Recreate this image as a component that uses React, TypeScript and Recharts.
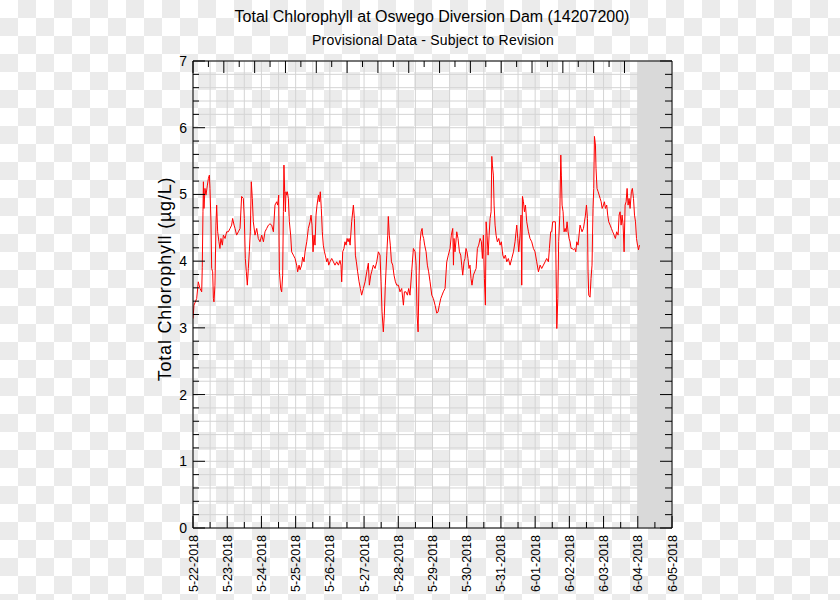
import React from 'react';
import { LineChart, Line, XAxis, YAxis, CartesianGrid, ReferenceArea } from 'recharts';

// hours since 5-22-2018 00:00
const hours = [
  0.0, 0.7, 2.6, 3.7, 4.9, 6.1, 6.5, 7.0, 7.3, 7.7,
  8.4, 9.1, 10.1, 10.8, 11.5, 11.9, 12.6, 13.1, 13.8, 14.3,
  14.7, 15.4, 16.1, 16.6, 17.3, 18.2, 18.9, 19.6, 20.6, 21.3,
  22.5, 23.6, 24.8, 26.0, 27.1, 27.8, 28.8, 29.5, 30.6, 31.8,
  33.0, 34.1, 35.3, 36.0, 36.7, 37.4, 38.1, 38.8, 39.5, 40.2,
  40.9, 41.6, 42.3, 43.5, 44.7, 45.8, 47.0, 48.2, 49.4, 50.5,
  51.7, 52.9, 54.0, 55.2, 56.4, 57.5, 58.7, 59.4, 60.1, 60.6,
  61.5,
  62.2, 62.9, 63.4, 63.8, 64.3, 64.8, 65.2, 65.7, 66.2, 66.9,
  67.6, 68.5, 69.2, 70.4, 71.6, 72.7, 73.4, 74.4, 75.1, 76.2,
  76.9, 77.9, 78.6, 79.8, 80.9, 82.1, 82.8, 83.5, 84.2, 84.9,
  85.6, 86.3, 87.0, 88.0, 88.6, 89.3, 90.0, 90.7, 91.4, 92.2,
  92.8, 93.8, 94.5, 95.2, 96.1, 97.3, 98.5, 99.6, 100.8, 102.0,
  103.1, 103.8, 104.3, 105.0, 105.9, 106.6, 107.4, 108.1, 108.8, 109.5,
  110.2, 111.3, 112.5, 113.2, 113.9, 114.6, 115.5, 116.5, 117.4, 118.3,
  119.5, 120.7, 121.9, 123.0, 123.7, 124.7,
  125.3, 126.5, 127.7, 128.9, 130.0, 131.2, 131.9, 132.6, 133.5, 134.2,
  134.9, 135.9, 136.6, 137.0, 137.7, 138.4, 139.2, 140.1, 141.0, 142.0,
  142.9, 144.1, 145.2, 146.4, 147.6, 148.3, 149.4, 150.4, 151.3, 152.2,
  153.4, 154.6, 155.8, 156.5, 157.2, 157.9, 158.6, 159.3, 160.0, 160.7,
  161.1, 161.8, 162.5, 163.5, 164.4, 165.3, 166.3, 167.5, 168.6, 169.8,
  171.0, 171.9, 172.8, 173.8, 174.7, 175.6, 176.8, 178.0, 179.1, 180.3,
  181.2, 182.2, 182.7, 183.1, 183.8, 185.0, 185.9, 186.9, 187.8,
  188.5, 189.2, 190.1, 190.8, 191.5, 192.2, 192.9, 193.6, 194.3, 195.0,
  195.7, 196.7, 197.6, 198.6, 199.5, 200.4, 201.4, 202.3, 203.0, 203.7,
  204.4, 205.1, 205.6, 206.3, 207.0, 207.7, 208.4, 209.1, 209.6, 210.0,
  210.7, 211.2, 211.9, 212.6, 213.5, 214.5, 215.4, 216.3, 217.3, 218.2,
  219.1, 220.1, 221.2, 222.4, 223.6, 224.8, 225.9, 227.1, 227.8, 228.5,
  229.4, 230.1, 230.6, 231.1, 231.8, 232.5, 233.2, 234.1, 235.3, 236.4,
  237.6, 238.8, 239.9, 241.1, 242.3, 243.5, 244.6, 245.8, 247.0, 248.1,
  249.3, 250.0, 250.9,
  251.6, 252.3, 254.2, 254.7, 255.2, 255.9, 256.5, 257.3, 258.0, 258.4,
  258.9, 259.6, 260.3, 261.0, 261.7, 262.4, 263.1, 263.8, 264.5, 265.2,
  265.9, 266.9, 267.8, 268.5, 269.2, 270.1, 270.8, 271.5, 272.2, 272.9,
  273.9, 274.6, 275.3, 276.0, 276.7, 277.1, 277.6, 278.5, 279.2, 279.9,
  280.6, 281.1, 281.6, 282.3, 282.7, 283.4, 284.2, 284.9, 285.6, 286.3,
  287.0, 287.9, 288.6, 289.3, 290.2, 290.9, 291.6, 292.6, 293.5, 294.4,
  295.4, 296.3, 297.2, 298.2, 298.9, 299.6, 300.3, 301.0, 301.7, 302.4,
  303.1, 303.8, 304.5, 305.2, 305.9, 306.6, 307.5, 308.2, 309.0, 309.7,
  310.4, 311.1, 311.8, 312.5, 313.2,
];

// total chlorophyll, ug/L
const chlorophyll = [
  3.14, 3.34, 3.44, 3.69, 3.59, 3.54, 3.90, 4.74, 5.19, 4.79,
  5.09, 4.99, 5.14, 5.24, 5.29, 5.09, 4.60, 3.89, 3.84, 3.44,
  3.39, 3.64, 4.54, 4.84, 4.44, 4.29, 4.19, 4.34, 4.24, 4.39,
  4.34, 4.44, 4.44, 4.49, 4.54, 4.64, 4.54, 4.49, 4.39, 4.44,
  4.49, 4.97, 4.94, 4.64, 4.04, 3.84, 3.64, 3.89, 4.14, 4.44,
  5.19, 4.94, 4.59, 4.39, 4.49, 4.34, 4.29, 4.39, 4.29, 4.44,
  4.49, 4.54, 4.56, 4.54, 4.44, 4.84, 4.89, 4.84, 4.99, 3.84,
  3.59,
  3.54, 3.79, 4.74, 5.44, 5.04, 4.74, 5.04, 4.99, 5.04, 4.94,
  4.59, 4.39, 4.14, 4.09, 4.04, 3.94, 3.84, 3.94, 3.87, 3.94,
  4.06, 3.99, 4.14, 4.29, 4.49, 4.59, 4.69, 4.54, 4.14, 4.39,
  4.24, 4.69, 4.84, 4.99, 4.89, 5.04, 4.79, 4.44, 4.24, 4.14,
  4.09, 3.99, 4.04, 3.94, 3.99, 4.04, 3.99, 3.94, 3.99, 3.94,
  4.01, 3.94, 3.69, 4.14, 4.19, 4.29, 4.24, 4.34, 4.29, 4.34,
  4.24, 4.59, 4.84, 4.64, 4.09, 3.99, 3.84, 3.69, 3.59, 3.49,
  3.59, 3.69, 3.84, 3.97, 3.64, 3.79,
  3.84, 3.94, 3.89, 3.99, 4.14, 4.09, 3.69, 3.24, 2.94, 3.19,
  3.64, 4.09, 4.39, 4.67, 4.39, 4.24, 3.99, 3.94, 3.79, 3.69,
  3.64, 3.64, 3.54, 3.59, 3.34, 3.54, 3.54, 3.49, 3.59, 3.49,
  3.84, 4.19, 4.14, 3.94, 3.19, 2.94, 3.79, 4.29, 4.44, 4.49,
  4.39, 4.34, 4.24, 4.14, 3.94, 3.84, 3.69, 3.49, 3.44, 3.34,
  3.22, 3.24, 3.34, 3.44, 3.49, 3.54, 3.59, 3.99, 4.09, 4.19,
  4.39, 4.49, 3.94, 4.34, 4.14, 4.44, 4.34, 4.14, 4.09,
  3.94, 3.79, 3.99, 4.04, 4.19, 4.14, 4.04, 3.89, 3.94, 3.74,
  3.64, 3.79, 3.84, 3.89, 4.19, 4.24, 4.34, 4.29, 4.04, 4.39,
  3.74, 3.34, 4.59, 4.39, 4.09, 4.39, 4.64, 4.74, 5.57, 5.44,
  5.29, 4.84, 4.54, 4.39, 4.29, 4.34, 4.24, 4.29, 4.09, 4.04,
  4.09, 3.99, 4.04, 3.94, 4.04, 4.14, 4.29, 4.54, 4.34, 4.14,
  4.39, 4.69, 3.64, 4.97, 4.89, 4.74, 4.84, 4.59, 4.44, 4.34,
  4.29, 4.19, 4.14, 3.99, 3.84, 3.94, 3.89, 3.94, 3.99, 4.04,
  3.99, 4.19, 4.44,
  4.44, 4.59, 4.59, 3.84, 2.99, 3.44, 4.29, 4.69, 5.59, 5.29,
  4.84, 4.74, 4.44, 4.49, 4.44, 4.59, 4.44, 4.34, 4.29, 4.19,
  4.19, 4.17, 4.19, 4.14, 4.29, 4.24, 4.39, 4.54, 4.49, 4.44,
  4.49, 4.59, 4.69, 4.84, 4.64, 3.84, 3.49, 3.46, 3.74, 3.94,
  4.79, 5.09, 5.87, 5.74, 5.39, 5.09, 5.04, 4.99, 4.94, 4.89,
  4.79, 4.84, 4.89, 4.79, 4.84, 4.69, 4.59, 4.54, 4.49, 4.44,
  4.39, 4.34, 4.44, 4.39, 4.69, 4.74, 4.54, 4.69, 4.54, 4.14,
  4.84, 4.89, 5.09, 4.84, 4.94, 4.79, 5.04, 5.09, 4.94, 4.69,
  4.59, 4.34, 4.24, 4.17, 4.24,
];

const dateLabels = [
  '5-22-2018', '5-23-2018', '5-24-2018', '5-25-2018', '5-26-2018',
  '5-27-2018', '5-28-2018', '5-29-2018', '5-30-2018', '5-31-2018',
  '6-01-2018', '6-02-2018', '6-03-2018', '6-04-2018', '6-05-2018',
];

const endHour = 336;
const shadeStart = 312; // 6-04 00:00, no data yet
const xTicks = Array.from({ length: 29 }, (_, i) => i * 12);
const yTicks = Array.from({ length: 36 }, (_, i) => i / 5);

const data = hours.map((h, i) => ({ h, v: chlorophyll[i] }));

const font = '"Liberation Sans", Arial, Helvetica, sans-serif';
const isWhole = (v: number) => Math.abs(v - Math.round(v)) < 1e-6;

const BottomTick = ({ x, y, payload }: any) => {
  const major = payload.value % 24 === 0;
  const ty = y + 7;
  return (
    <g>
      <line x1={x} y1={y} x2={x} y2={y - (major ? 12 : 6)} stroke="#000" />
      {major && (
        <text
          x={x}
          y={ty}
          transform={`rotate(-90 ${x} ${ty})`}
          textAnchor="end"
          dy="0.36em"
          fontSize={12.5}
          fontFamily={font}
          fill="#000"
        >
          {dateLabels[payload.value / 24]}
        </text>
      )}
    </g>
  );
};

const TopTick = ({ x, y, payload }: any) => {
  const major = payload.value % 24 === 0;
  return <line x1={x} y1={y} x2={x} y2={y + (major ? 12 : 6)} stroke="#000" />;
};

const LeftTick = ({ x, y, payload }: any) => {
  const major = isWhole(payload.value);
  return (
    <g>
      <line x1={x} y1={y} x2={x + (major ? 12 : 6)} y2={y} stroke="#000" />
      {major && (
        <text x={x - 6} y={y} dy="0.36em" textAnchor="end" fontSize={14} fontFamily={font} fill="#000">
          {Math.round(payload.value)}
        </text>
      )}
    </g>
  );
};

const RightTick = ({ x, y, payload }: any) => {
  const major = isWhole(payload.value);
  return <line x1={x} y1={y} x2={x - (major ? 12 : 7)} y2={y} stroke="#000" />;
};

export default function App() {
  return (
    <div
      style={{
        position: 'absolute',
        left: 0,
        top: 0,
        width: 840,
        height: 600,
        fontFamily: font,
        backgroundColor: '#fff',
        backgroundImage: 'conic-gradient(#ebebeb 25%, #fff 0 50%, #ebebeb 0 75%, #fff 0)',
        backgroundSize: '36px 36px',
      }}
    >
      <div style={{ position: 'absolute', left: 432, top: 8, transform: 'translateX(-50%)', fontSize: 16, lineHeight: '18px', whiteSpace: 'nowrap' }}>
        Total Chlorophyll at Oswego Diversion Dam (14207200)
      </div>
      <div style={{ position: 'absolute', left: 433, top: 32, transform: 'translateX(-50%)', fontSize: 14, lineHeight: '17px', whiteSpace: 'nowrap', letterSpacing: '0.2px' }}>
        Provisional Data - Subject to Revision
      </div>
      <div
        style={{
          position: 'absolute',
          left: 165,
          top: 279,
          transform: 'translate(-50%, -50%) rotate(-90deg)',
          fontSize: 18,
          lineHeight: '20px',
          letterSpacing: '0.8px',
          whiteSpace: 'nowrap',
        }}
      >
        Total Chlorophyll (µg/L)
      </div>
      <LineChart width={840} height={600} data={data} margin={{ top: 51, right: 158, bottom: 12, left: 153 }}>
        <CartesianGrid stroke="#d4d4d4" />
        <XAxis
          dataKey="h"
          type="number"
          domain={[0, endHour]}
          ticks={xTicks}
          interval={0}
          allowDataOverflow
          height={60}
          tickSize={0}
          tickMargin={0}
          tickLine={false}
          axisLine={{ stroke: '#000' }}
          tick={(p: any) => <BottomTick {...p} />}
        />
        <XAxis
          xAxisId="top"
          orientation="top"
          type="number"
          domain={[0, endHour]}
          ticks={xTicks}
          interval={0}
          allowDataOverflow
          height={10}
          tickSize={0}
          tickMargin={0}
          tickLine={false}
          axisLine={{ stroke: '#000' }}
          tick={(p: any) => <TopTick {...p} />}
        />
        <YAxis
          type="number"
          domain={[0, 7]}
          ticks={yTicks}
          interval={0}
          allowDataOverflow
          width={40}
          tickSize={0}
          tickMargin={0}
          tickLine={false}
          axisLine={{ stroke: '#000' }}
          tick={(p: any) => <LeftTick {...p} />}
        />
        <YAxis
          yAxisId="right"
          orientation="right"
          type="number"
          domain={[0, 7]}
          ticks={yTicks}
          interval={0}
          allowDataOverflow
          width={10}
          tickSize={0}
          tickMargin={0}
          tickLine={false}
          axisLine={{ stroke: '#000' }}
          tick={(p: any) => <RightTick {...p} />}
        />
        <ReferenceArea x1={shadeStart} x2={endHour} y1={0} y2={7} fill="#d9d9d9" fillOpacity={1} stroke="none" />
        <Line
          type="linear"
          dataKey="v"
          stroke="#ff0000"
          strokeWidth={1}
          dot={false}
          isAnimationActive={false}
        />
      </LineChart>
    </div>
  );
}
